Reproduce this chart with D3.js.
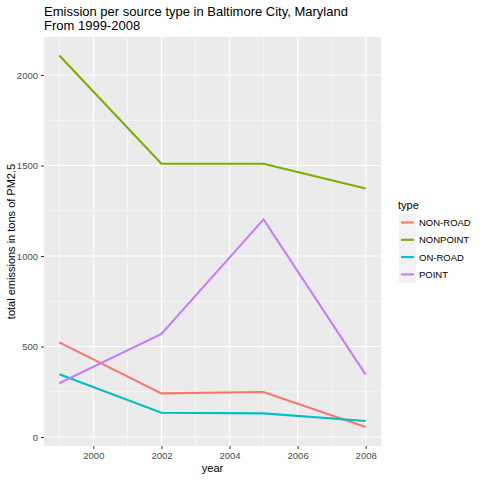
<!DOCTYPE html>
<html><head><meta charset="utf-8">
<script src="https://cdn.jsdelivr.net/npm/d3@7"></script>
<style>body{margin:0;background:#fff}svg{font-family:"Liberation Sans",Arial,sans-serif}</style>
</head><body><svg id="c" width="480" height="480"></svg>
<script>
const years = [1999, 2002, 2005, 2008];
const types = ["NON-ROAD", "NONPOINT", "ON-ROAD", "POINT"];
const nonRoad = [522.94, 240.85, 248.93, 55.82];
const nonPoint = [2107.63, 1509.5, 1509.5, 1373.21];
const onRoad = [346.82, 134.31, 130.43, 88.28];
const point = [296.80, 569.26, 1202.49, 344.98];
const colors = ["#F8766D", "#7CAE00", "#00BFC4", "#C77CFF"];
const xTicks = [2000, 2002, 2004, 2006, 2008];
const yTicks = [0, 500, 1000, 1500, 2000];

const seriesVals = [nonRoad, nonPoint, onRoad, point];
const series = types.map((t, i) => ({type: t, color: colors[i], values: years.map((y, j) => ({x: y, y: seriesVals[i][j]}))}));

const svg = d3.select("#c");
const L = 44, R = 381, T = 37, B = 446;
const x = d3.scaleLinear().domain([1999 - 0.45, 2008 + 0.45]).range([L, R]);
const yS = d3.scaleLinear().domain([0, 2000]).range([437, 75]);

svg.append("rect").attr("x", L).attr("y", T).attr("width", R - L).attr("height", B - T).attr("fill", "#EBEBEB");
const xMinor = [1999, 2001, 2003, 2005, 2007];
const yMinor = [250, 750, 1250, 1750];
svg.selectAll(".xm").data(xMinor).enter().append("line").attr("x1", d => x(d)).attr("x2", d => x(d)).attr("y1", T).attr("y2", B).attr("stroke", "#fff").attr("stroke-width", 0.55);
svg.selectAll(".ym").data(yMinor).enter().append("line").attr("y1", d => yS(d)).attr("y2", d => yS(d)).attr("x1", L).attr("x2", R).attr("stroke", "#fff").attr("stroke-width", 0.55);
svg.selectAll(".xg").data(xTicks).enter().append("line").attr("x1", d => x(d)).attr("x2", d => x(d)).attr("y1", T).attr("y2", B).attr("stroke", "#fff").attr("stroke-width", 1.1);
svg.selectAll(".yg").data(yTicks).enter().append("line").attr("y1", d => yS(d)).attr("y2", d => yS(d)).attr("x1", L).attr("x2", R).attr("stroke", "#fff").attr("stroke-width", 1.1);

const line = d3.line().x(d => x(d.x)).y(d => yS(d.y));
svg.selectAll(".s").data(series).enter().append("path").attr("d", d => line(d.values)).attr("fill", "none").attr("stroke", d => d.color).attr("stroke-width", 2.1);

const xAxis = svg.append("g").attr("transform", `translate(0,${B})`).call(d3.axisBottom(x).tickValues(xTicks).tickFormat(d3.format("d")).tickSize(3).tickPadding(3));
const yAxis = svg.append("g").attr("transform", `translate(${L},0)`).call(d3.axisLeft(yS).tickValues(yTicks).tickFormat(d3.format("d")).tickSize(3).tickPadding(3));
[xAxis, yAxis].forEach(a => {
  a.select(".domain").remove();
  a.selectAll(".tick line").attr("stroke", "#333").attr("stroke-width", 1);
  a.selectAll(".tick text").attr("fill", "#4D4D4D").attr("font-size", "9.5px").attr("font-family", "Liberation Sans, Arial, sans-serif");
});

svg.append("text").attr("x", L).attr("y", 16).attr("font-size", "13px").attr("fill", "#000").text("Emission per source type in Baltimore City, Maryland");
svg.append("text").attr("x", L).attr("y", 30).attr("font-size", "13px").attr("fill", "#000").text("From 1999-2008");
svg.append("text").attr("x", (L + R) / 2).attr("y", 472).attr("text-anchor", "middle").attr("font-size", "11px").text("year");
svg.append("text").attr("transform", `translate(15,${(T + B) / 2}) rotate(-90)`).attr("text-anchor", "middle").attr("font-size", "11px").text("total emissions in tons of PM2.5");

const lg = svg.append("g");
lg.append("text").attr("x", 398).attr("y", 209).attr("font-size", "11px").text("type");
const items = lg.selectAll(".li").data(series).enter().append("g").attr("transform", (d, i) => `translate(399,${214 + i * 17.3})`);
items.append("rect").attr("width", 17).attr("height", 17).attr("fill", "#F2F2F2");
items.append("line").attr("x1", 2).attr("x2", 15).attr("y1", 8.5).attr("y2", 8.5).attr("stroke", d => d.color).attr("stroke-width", 2.1);
items.append("text").attr("x", 20).attr("y", 12).attr("font-size", "9.5px").attr("fill", "#000").text(d => d.type);
</script></body></html>
